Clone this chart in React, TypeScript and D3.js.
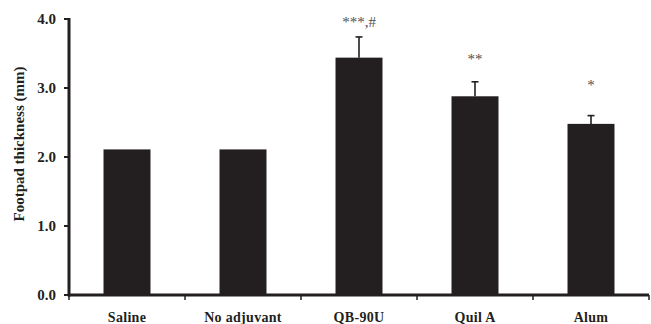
import React from "react";
import * as d3 from "d3";

const categories = ["Saline", "No adjuvant", "QB-90U", "Quil A", "Alum"];
const means = [2.11, 2.11, 3.44, 2.88, 2.48];
const errors = [0, 0, 0.3, 0.21, 0.12];
const annotations = ["", "", "***,#", "**", "*"];
const yTicks = [0, 1, 2, 3, 4];

const W = 651;
const H = 324;
const M = { left: 69, right: 2, top: 19, bottom: 29 };

export default function App() {
  const x = d3
    .scaleBand<string>()
    .domain(categories)
    .range([M.left, W - M.right])
    .paddingInner(0.595)
    .paddingOuter(0.2975);
  const band = d3.scaleBand<string>().domain(categories).range([M.left, W - M.right]);
  const y = d3.scaleLinear().domain([0, 4]).range([H - M.bottom, M.top]);
  const col = "#231f20";
  const serif = "'Liberation Serif', 'Times New Roman', serif";
  const boundaries = [...categories.map((c) => band(c)!), W - M.right];
  const annGap = [0, 0, 10, 18, 26];

  return (
    <svg
      width={W}
      height={H}
      style={{ position: "absolute", left: 0, top: 0, background: "#fff" }}
      fontFamily={serif}
    >
      {categories.map((c, i) => {
        const bx = x(c)!;
        const bw = x.bandwidth();
        const cx = bx + bw / 2;
        const top = y(means[i]);
        const errTop = y(means[i] + errors[i]);
        return (
          <g key={c}>
            <rect x={bx} y={top} width={bw} height={y(0) - top} fill={col} />
            {errors[i] > 0 && (
              <g stroke={col} strokeWidth={1.6}>
                <line x1={cx} x2={cx} y1={top} y2={errTop} />
                <line x1={cx - 3.5} x2={cx + 3.5} y1={errTop} y2={errTop} />
              </g>
            )}
            {annotations[i] && (
              <text
                x={cx}
                y={errTop - annGap[i]}
                textAnchor="middle"
                fontSize={15}
                fill="#505050"
              >
                {annotations[i]}
              </text>
            )}
            <text
              x={band(c)! + band.bandwidth() / 2}
              y={322}
              textAnchor="middle"
              fontSize={14}
              fontWeight="bold"
              letterSpacing={0.3}
              fill={col}
            >
              {c}
            </text>
          </g>
        );
      })}
      {/* Y axis */}
      <line x1={M.left} x2={M.left} y1={y(4) - 1} y2={y(0) + 1.5} stroke={col} strokeWidth={3} />
      {yTicks.map((t) => (
        <g key={t}>
          <line x1={M.left - 5} x2={M.left} y1={y(t)} y2={y(t)} stroke={col} strokeWidth={2} />
          <text
            x={56}
            y={y(t)}
            dy="0.35em"
            textAnchor="end"
            fontSize={15}
            fontWeight="bold"
            fill={col}
          >
            {t.toFixed(1)}
          </text>
        </g>
      ))}
      {/* X axis */}
      <line x1={M.left - 1} x2={W - M.right} y1={y(0)} y2={y(0)} stroke={col} strokeWidth={3} />
      {boundaries.map((b, i) => (
        <line key={i} x1={b} x2={b} y1={y(0)} y2={y(0) + 5} stroke={col} strokeWidth={1.5} />
      ))}
      <text
        transform={`translate(19, ${(y(0) + y(4)) / 2 - 13}) rotate(-90)`}
        textAnchor="middle"
        dy="0.35em"
        fontSize={15}
        fontWeight="bold"
        fill={col}
      >
        Footpad thickness (mm)
      </text>
    </svg>
  );
}
